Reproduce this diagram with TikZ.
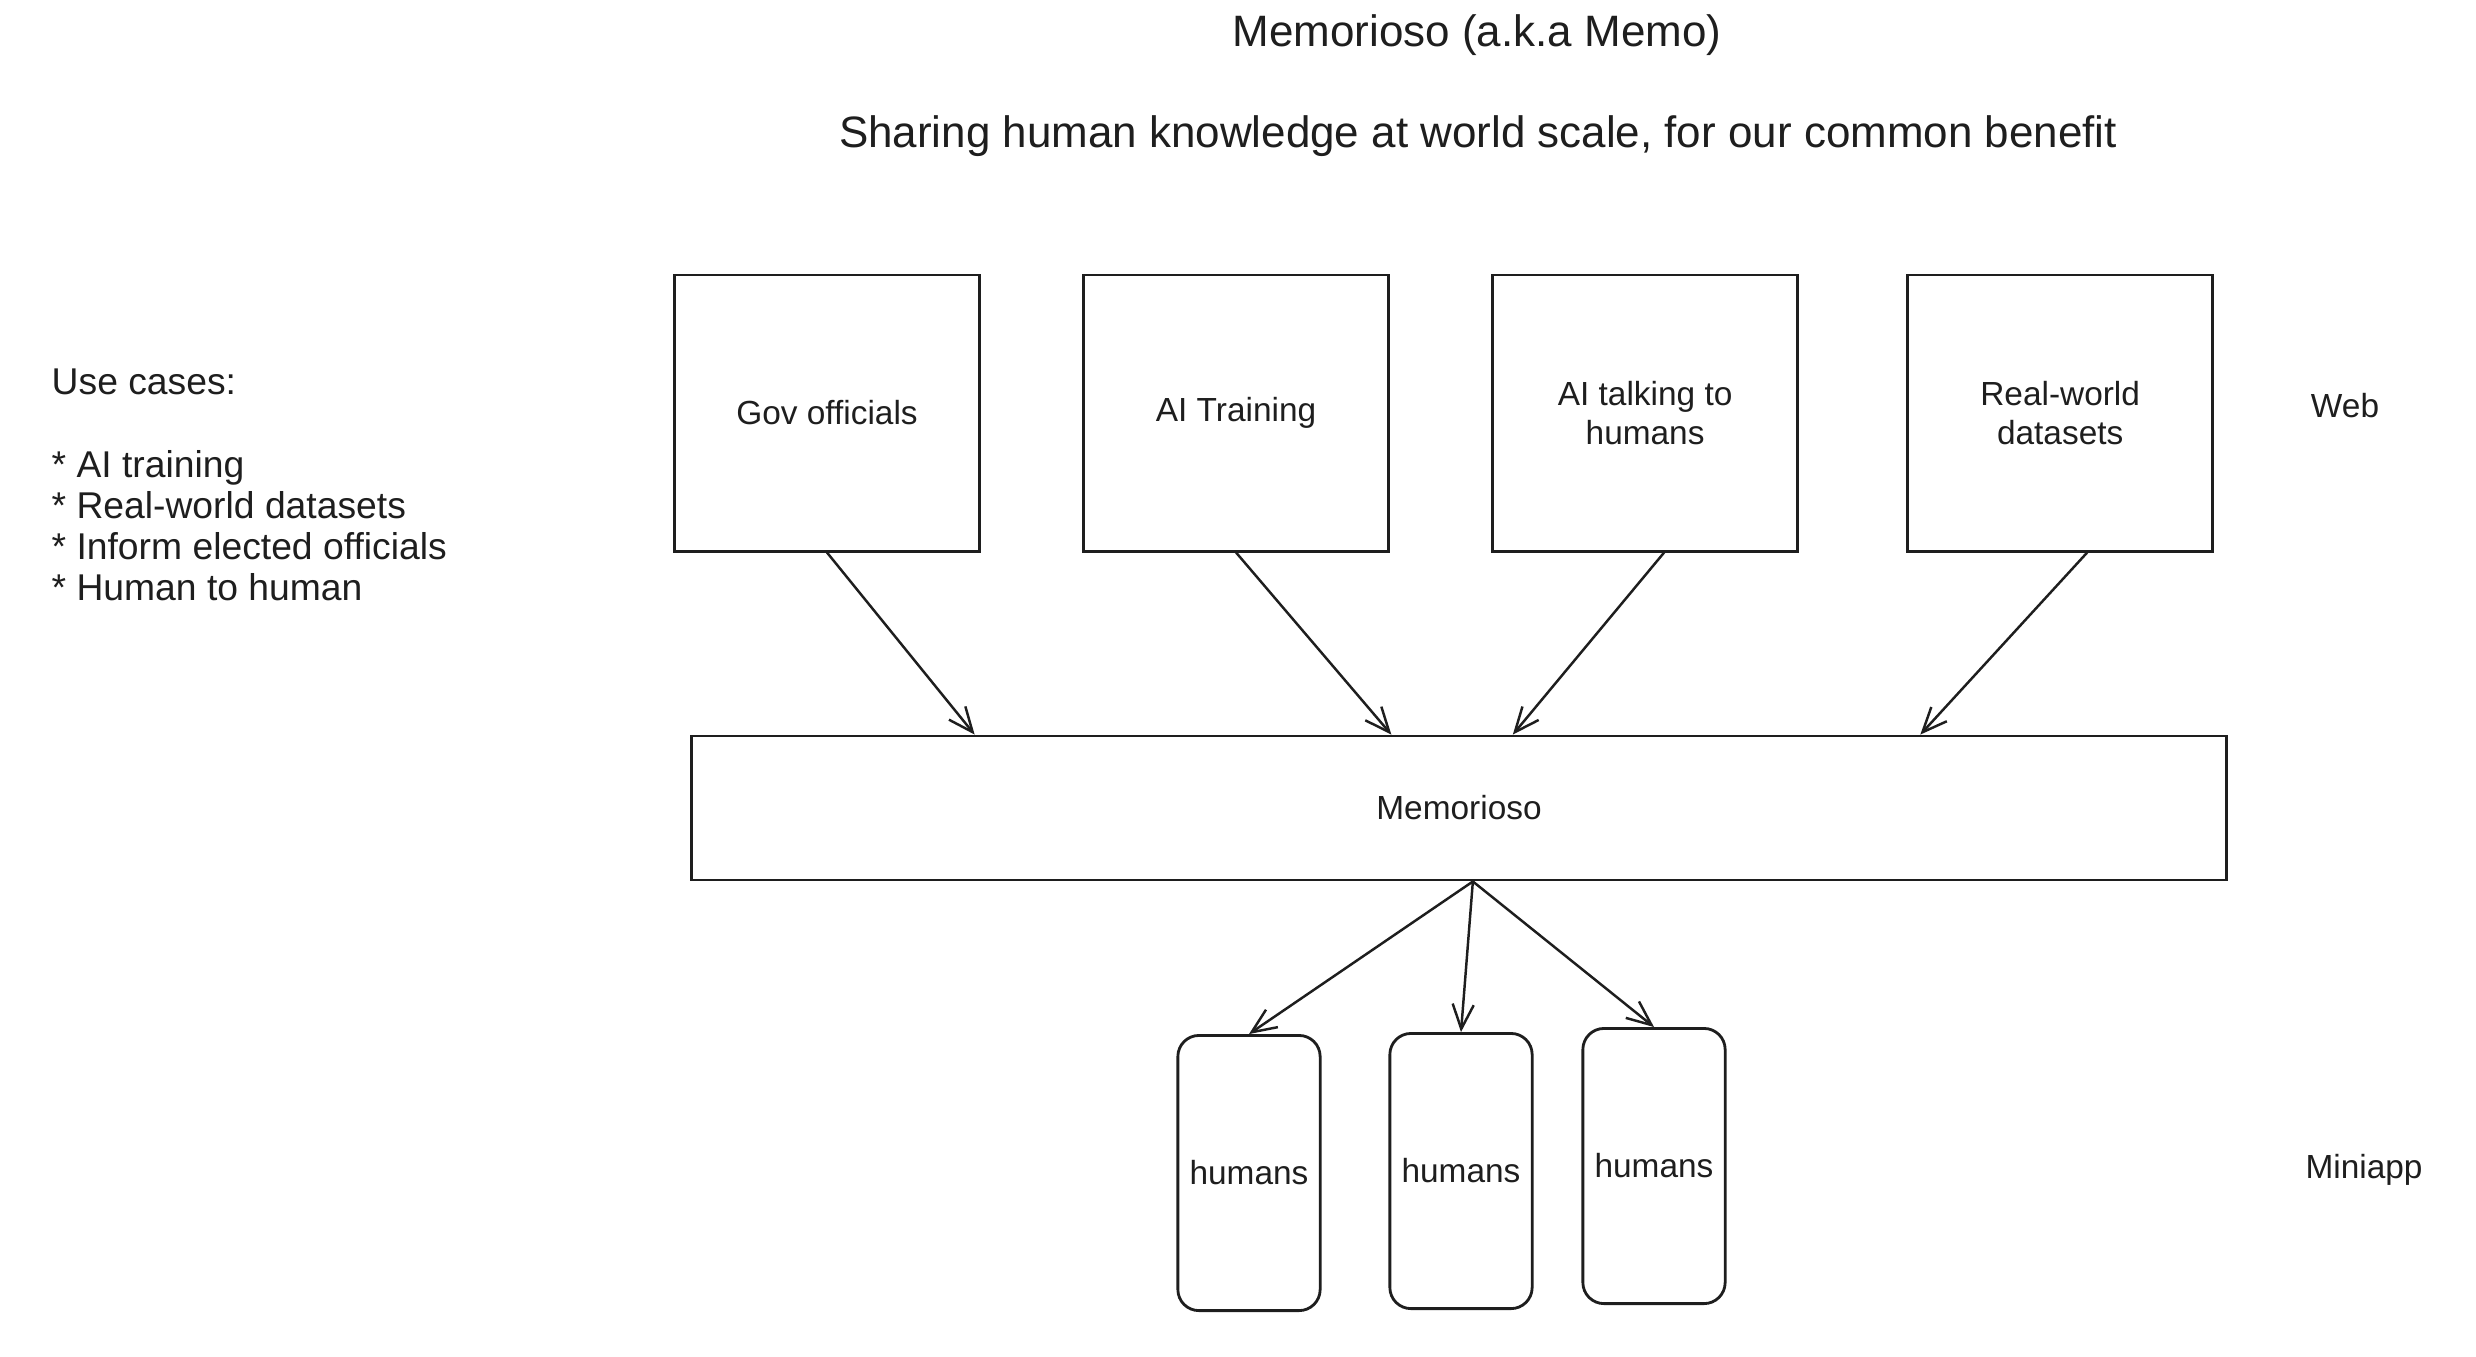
\documentclass[tikz,border=0pt]{standalone}
\usepackage{fontspec}
\setmainfont{Liberation Sans}
\usetikzlibrary{positioning, arrows.meta, calc}
\definecolor{inkDark}{HTML}{1E1E1E}

\begin{document}
\begin{tikzpicture}[x=0.01cm, y=-0.01cm, inkDark,
    font=\fontsize{9.5}{11.2}\selectfont,
    usecase/.style={draw=inkDark, line width=0.8pt, minimum width=3.05cm,
                    minimum height=2.76cm, align=center},
    user/.style={draw=inkDark, line width=0.8pt, rounded corners=6pt,
                 minimum width=1.42cm, minimum height=2.75cm},
    feed/.style={-{Straight Barb[length=7pt, width=6pt]}, line width=0.7pt}]
  \useasboundingbox (0,0) rectangle (2476,1356);

  % titles
  \node[font=\fontsize{12.5}{14}\selectfont] (title) at (1477,35) {Memorioso (a.k.a Memo)};
  \node[font=\fontsize{12.5}{14}\selectfont] (tagline) at (1478,136)
    {Sharing human knowledge at world scale, for our common benefit};

  % use cases
  \node[anchor=west, align=left, inner sep=0pt,
        font=\fontsize{10.6}{11.7}\selectfont] (cases) at (51,485)
    {Use cases:\\[11.7pt]
     * AI training\\
     * Real-world datasets\\
     * Inform elected officials\\
     * Human to human};

  % web row
  \node[usecase] (gov) at (827,413) {Gov officials};
  \node[usecase, right=1.01cm of gov] (train) {AI Training};
  \node[usecase, right=1.01cm of train] (talk) {AI talking to\\humans};
  \node[usecase, right=1.07cm of talk] (data) {Real-world\\datasets};
  \node (web) at (2345,406) {Web};

  \node[draw=inkDark, line width=0.8pt, minimum width=15.34cm,
        minimum height=1.44cm] (memo) at (1459,808) {\raisebox{-1.5pt}{Memorioso}};

  \draw[feed] (gov.south) -- ($(memo.north west)!0.185!(memo.north east)$);
  \draw[feed] (train.south) -- ($(memo.north west)!0.456!(memo.north east)$);
  \draw[feed] ([xshift=0.19cm]talk.south) -- ($(memo.north west)!0.535!(memo.north east)$);
  \draw[feed] ([xshift=0.27cm]data.south) -- ($(memo.north west)!0.80!(memo.north east)$);

  % miniapp row
  \node[user] (h1) at (1249,1173) {humans};
  \node[user] (h2) at (1461,1171) {humans};
  \node[user] (h3) at (1654,1166) {humans};
  \node (mini) at (2364,1170) {Miniapp};

  \coordinate (hub) at ($(memo.south west)!0.509!(memo.south east)$);
  \draw[feed] (hub) -- (h1.north);
  \draw[feed] (hub) -- (h2.north);
  \draw[feed] (hub) -- (h3.north);
\end{tikzpicture}
\end{document}
